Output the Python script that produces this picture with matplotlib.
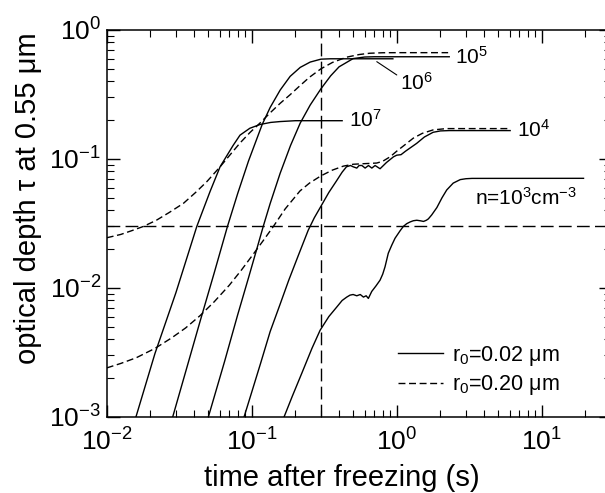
import matplotlib
matplotlib.use("Agg")
import matplotlib.pyplot as plt
from matplotlib.ticker import LogLocator, NullFormatter

plt.rcParams["font.family"] = ["Liberation Sans", "DejaVu Sans"]
plt.rcParams["mathtext.fontset"] = "custom"
plt.rcParams["mathtext.rm"] = "Liberation Sans"
plt.rcParams["mathtext.it"] = "Liberation Sans:italic"
plt.rcParams["mathtext.bf"] = "Liberation Sans:bold"

# r0 = 0.02 um (solid), one curve per density n (cm^-3)
t_n7 = [0.0159, 0.0215, 0.03, 0.0418, 0.0516, 0.0605, 0.068, 0.0746, 0.083, 0.097, 0.114, 0.135,
        0.157, 0.2, 0.42]
tau_n7 = [0.001, 0.0031, 0.0092, 0.03, 0.056, 0.087, 0.108, 0.128, 0.153, 0.173, 0.185, 0.192,
          0.195, 0.198, 0.198]

t_n6 = [0.0285, 0.036, 0.044, 0.055, 0.068, 0.08, 0.095, 0.118, 0.134, 0.157, 0.184, 0.216,
        0.253, 0.3, 0.35, 0.4, 0.94]
tau_n6 = [0.001, 0.0025, 0.0055, 0.013, 0.03, 0.054, 0.0965, 0.185, 0.251, 0.342, 0.437, 0.513,
          0.564, 0.594, 0.598, 0.598, 0.598]

t_n5 = [0.0502, 0.065, 0.08, 0.095, 0.108, 0.12, 0.134, 0.157, 0.185, 0.216, 0.253, 0.3, 0.35,
        0.4, 0.5, 0.6, 0.7, 2.3]
tau_n5 = [0.001, 0.0027, 0.0062, 0.012, 0.0198, 0.03, 0.0452, 0.0775, 0.127, 0.19, 0.262, 0.35,
          0.441, 0.518, 0.6, 0.617, 0.62, 0.62]

t_n4 = [0.0885, 0.1, 0.115, 0.134, 0.157, 0.18, 0.21, 0.245, 0.27, 0.3, 0.34, 0.382, 0.42, 0.45,
        0.48, 0.5, 0.53, 0.55, 0.575, 0.605, 0.638, 0.673, 0.709, 0.767, 0.85, 0.95, 1.0, 1.07,
        1.15, 1.37, 1.55, 1.78, 2.0, 2.3, 6.05]
tau_n4 = [0.001, 0.00156, 0.0026, 0.0046, 0.0075, 0.0115, 0.018, 0.028, 0.035, 0.043, 0.055, 0.067,
          0.079, 0.087, 0.089, 0.087, 0.085, 0.089, 0.089, 0.085, 0.089, 0.085, 0.089, 0.084,
          0.094, 0.104, 0.107, 0.108, 0.115, 0.132, 0.148, 0.161, 0.165, 0.166, 0.166]

t_n3 = [0.167, 0.19, 0.222, 0.26, 0.296, 0.34, 0.385, 0.42, 0.452, 0.476, 0.5, 0.53, 0.56, 0.589,
        0.615, 0.637, 0.672, 0.72, 0.767, 0.8, 0.83, 0.874, 0.924, 0.973, 1.055, 1.11, 1.17,
        1.236, 1.3, 1.374, 1.45, 1.53, 1.6, 1.65, 1.74, 1.89, 2.05, 2.21, 2.45, 2.74, 3.0, 3.3,
        19.4]
tau_n3 = [0.001, 0.00144, 0.0022, 0.0034, 0.0047, 0.006, 0.0071, 0.008, 0.0085, 0.0088, 0.0089,
          0.0087, 0.0089, 0.0085, 0.0087, 0.0083, 0.0094, 0.0104, 0.0115, 0.0128, 0.0146, 0.0186,
          0.0215, 0.0243, 0.0278, 0.030, 0.0315, 0.0325, 0.0332, 0.0335, 0.0332, 0.0328, 0.0335,
          0.0343, 0.0368, 0.042, 0.05, 0.0575, 0.065, 0.0692, 0.0703, 0.0707, 0.0708]

# r0 = 0.20 um (dashed)
t_d5 = [0.01, 0.0125, 0.015, 0.0179, 0.022, 0.027, 0.0338, 0.041, 0.049, 0.0605, 0.072, 0.083,
        0.097, 0.114, 0.134, 0.157, 0.184, 0.215, 0.25, 0.3, 0.36, 0.45, 0.55, 0.65, 0.8, 1.0,
        2.26]
tau_d5 = [0.0245, 0.026, 0.0279, 0.030, 0.0335, 0.0385, 0.0453, 0.055, 0.0667, 0.087, 0.11, 0.133,
          0.16, 0.19, 0.228, 0.27, 0.315, 0.37, 0.43, 0.5, 0.56, 0.615, 0.645, 0.66, 0.666, 0.667,
          0.667]

t_d4 = [0.01, 0.0125, 0.016, 0.0215, 0.028, 0.035, 0.044, 0.055, 0.07, 0.085, 0.1025, 0.12, 0.141,
        0.17, 0.215, 0.25, 0.3, 0.36, 0.428, 0.5, 0.6, 0.728, 0.8, 0.9, 1.0, 1.15, 1.3, 1.5,
        1.78, 2.2, 6.05]
tau_d4 = [0.0024, 0.0026, 0.00288, 0.0034, 0.0041, 0.0049, 0.0061, 0.0078, 0.0105, 0.0138, 0.0183,
          0.0233, 0.030, 0.041, 0.0565, 0.065, 0.074, 0.082, 0.088, 0.091, 0.092, 0.093, 0.096,
          0.104, 0.115, 0.13, 0.145, 0.158, 0.168, 0.172, 0.172]

tau_ref = 0.03
t_ref = 0.3

fig = plt.figure(figsize=(6.05, 4.93), dpi=100)
ax = fig.add_axes([0.1764, 0.1542, 0.8335, 0.785])

solid = dict(color="black", lw=1.0)
dash = dict(color="black", lw=1.0, dashes=(5.0, 2.6))

ax.plot(t_n7, tau_n7, **solid, label="r$_0$=0.02 μm")
ax.plot(t_n6, tau_n6, **solid)
ax.plot(t_n5, tau_n5, **solid)
ax.plot(t_n4, tau_n4, **solid)
ax.plot(t_n3, tau_n3, **solid)
ax.plot(t_d5, tau_d5, **dash, label="r$_0$=0.20 μm")
ax.plot(t_d4, tau_d4, **dash)

ax.axhline(tau_ref, color="black", lw=1.0, dashes=(9.2, 3.8))
ax.axvline(t_ref, color="black", lw=1.0, dashes=(9.2, 3.8))

ax.set_xscale("log")
ax.set_yscale("log")
ax.set_xlim(0.01, 30)
ax.set_ylim(0.001, 1)
ax.xaxis.set_major_locator(LogLocator(base=10, numticks=10))
ax.xaxis.set_minor_locator(LogLocator(base=10, subs=range(2, 10), numticks=20))
ax.yaxis.set_minor_locator(LogLocator(base=10, subs=range(2, 10), numticks=20))
ax.xaxis.set_minor_formatter(NullFormatter())
ax.yaxis.set_minor_formatter(NullFormatter())
ax.tick_params(which="both", direction="in", top=True, right=True, labelsize=19)
ax.tick_params(which="major", length=9, width=1.0)
ax.tick_params(which="minor", length=5, width=0.8)
ax.tick_params(axis="x", which="major", pad=8)
ax.tick_params(axis="y", which="major", pad=4)
for s in ax.spines.values():
    s.set_linewidth(1.1)

# curve labels
ax.text(2.53, 0.55, r"$\mathregular{10^{5}}$", fontsize=15)
ax.text(1.054, 0.345, r"$\mathregular{10^{6}}$", fontsize=15)
ax.text(0.469, 0.177, r"$\mathregular{10^{7}}$", fontsize=15)
ax.text(6.76, 0.149, r"$\mathregular{10^{4}}$", fontsize=15)
ax.text(17.4, 0.044, r"n=10$^{3}$cm$^{-3}$", fontsize=15, ha="right")
ax.annotate("", xy=(0.728, 0.568), xytext=(1.0, 0.448),
            arrowprops=dict(arrowstyle="-", lw=0.8, color="black", shrinkA=0, shrinkB=0))

ax.legend(loc="upper left", bbox_to_anchor=(397.7 / 605, 1 - 344 / 493),
          bbox_transform=fig.transFigure, frameon=False, fontsize=15.5,
          handlelength=2.1, handletextpad=0.4, borderpad=0, borderaxespad=0,
          labelspacing=0.25)

fig.text(342 / 605, 1 - 486 / 493, "time after freezing (s)", fontsize=21,
         ha="center", va="baseline")
fig.text(28.5 / 605, 1 - 198.5 / 493, "optical depth τ at 0.55 μm", fontsize=21,
         ha="center", va="center", rotation=90)

fig.savefig("out.png", dpi=100)
